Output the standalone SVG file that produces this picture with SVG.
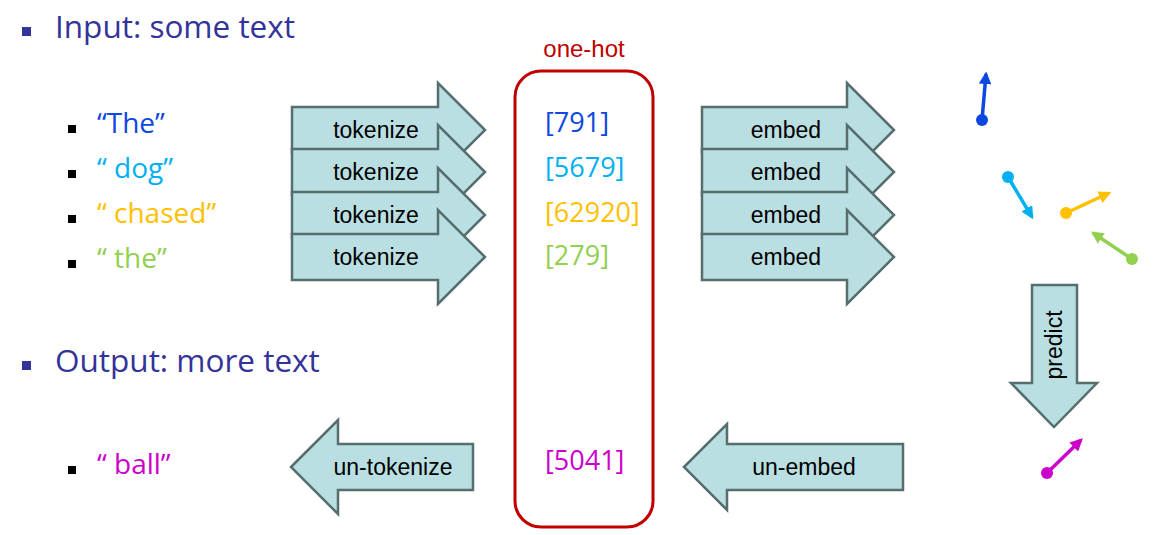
<svg xmlns="http://www.w3.org/2000/svg" width="1155" height="535" viewBox="0 0 1155 535">
<style>
.arr{fill:#b9dfe3;stroke:#566e6e;stroke-width:2.5;stroke-linejoin:miter}
.lbl{font-family:"Liberation Sans",Arial,sans-serif;font-size:23px;fill:#000;text-anchor:middle}
.hd{font-family:"Open Sans","Noto Sans",sans-serif;font-size:31.5px;fill:#333399}
.it{font-family:"Open Sans","Noto Sans",sans-serif;font-size:28px}
.num{font-family:"Open Sans","Noto Sans",sans-serif;font-size:27px}
.bh{fill:#333399}
.bi{fill:#000}
.vec{stroke-width:3.5;fill:none}
</style>
<defs>
<marker id="mb" viewBox="0 0 10 10" refX="8" refY="5" markerWidth="3.6" markerHeight="3.6" orient="auto" markerUnits="strokeWidth"><path d="M0,0 L10,5 L0,10 Z" fill="#0d47e1"/></marker>
<marker id="ms" viewBox="0 0 10 10" refX="8" refY="5" markerWidth="3.6" markerHeight="3.6" orient="auto" markerUnits="strokeWidth"><path d="M0,0 L10,5 L0,10 Z" fill="#00b0f0"/></marker>
<marker id="mo" viewBox="0 0 10 10" refX="8" refY="5" markerWidth="3.6" markerHeight="3.6" orient="auto" markerUnits="strokeWidth"><path d="M0,0 L10,5 L0,10 Z" fill="#ffc000"/></marker>
<marker id="mg" viewBox="0 0 10 10" refX="8" refY="5" markerWidth="3.6" markerHeight="3.6" orient="auto" markerUnits="strokeWidth"><path d="M0,0 L10,5 L0,10 Z" fill="#92d050"/></marker>
<marker id="mm" viewBox="0 0 10 10" refX="8" refY="5" markerWidth="3.6" markerHeight="3.6" orient="auto" markerUnits="strokeWidth"><path d="M0,0 L10,5 L0,10 Z" fill="#cc00cc"/></marker>
</defs>
<rect width="1155" height="535" fill="#fff"/>

<g id="headings">
<rect class="bh" x="22" y="27" width="9" height="9"/>
<text class="hd" x="55" y="38">Input: some text</text>
<rect class="bh" x="22" y="361" width="9" height="9"/>
<text class="hd" x="55" y="372">Output: more text</text>
</g>

<g id="words">
<rect class="bi" x="68" y="125" width="8" height="8"/>
<text class="it" x="97" y="133" fill="#0d47e1">“The”</text>
<rect class="bi" x="68" y="170" width="8" height="8"/>
<text class="it" x="97" y="178" fill="#00b0f0">“ dog”</text>
<rect class="bi" x="68" y="215" width="8" height="8"/>
<text class="it" x="97" y="223" fill="#ffc000">“ chased”</text>
<rect class="bi" x="68" y="260" width="8" height="8"/>
<text class="it" x="97" y="268" fill="#92d050">“ the”</text>
<rect class="bi" x="68" y="466" width="8" height="8"/>
<text class="it" x="97" y="474" fill="#cc00cc">“ ball”</text>
</g>

<g id="tokenize">
<path class="arr" d="M292,107 H438 V83 L485,130 L438,177 V153 H292 Z"/>
<text class="lbl" x="376" y="138">tokenize</text>
<path class="arr" d="M292,149 H438 V125 L485,172 L438,219 V195 H292 Z"/>
<text class="lbl" x="376" y="180">tokenize</text>
<path class="arr" d="M292,192 H438 V168 L485,215 L438,262 V238 H292 Z"/>
<text class="lbl" x="376" y="223">tokenize</text>
<path class="arr" d="M292,234 H438 V210 L485,257 L438,304 V280 H292 Z"/>
<text class="lbl" x="376" y="265">tokenize</text>
</g>

<g id="onehot">
<text x="584" y="57" font-family="Liberation Sans,Arial,sans-serif" font-size="24" fill="#c00000" text-anchor="middle">one-hot</text>
<rect x="515" y="71" width="138" height="456" rx="26" fill="none" stroke="#c00000" stroke-width="3"/>
<text class="num" x="545" y="132" fill="#0d47e1">[791]</text>
<text class="num" x="545" y="177" fill="#00b0f0">[5679]</text>
<text class="num" x="545" y="222" fill="#ffc000">[62920]</text>
<text class="num" x="545" y="265" fill="#92d050">[279]</text>
<text class="num" x="545" y="470" fill="#cc00cc">[5041]</text>
</g>

<g id="embed">
<path class="arr" d="M702,107 H847 V83 L894,130 L847,177 V153 H702 Z"/>
<text class="lbl" x="786" y="138">embed</text>
<path class="arr" d="M702,149 H847 V125 L894,172 L847,219 V195 H702 Z"/>
<text class="lbl" x="786" y="180">embed</text>
<path class="arr" d="M702,192 H847 V168 L894,215 L847,262 V238 H702 Z"/>
<text class="lbl" x="786" y="223">embed</text>
<path class="arr" d="M702,234 H847 V210 L894,257 L847,304 V280 H702 Z"/>
<text class="lbl" x="786" y="265">embed</text>
</g>

<g id="predict">
<path class="arr" d="M1032,285 H1077 V383 H1097 L1054,427 L1011,383 H1032 Z"/>
<text class="lbl" transform="translate(1062,345) rotate(-90)" x="0" y="0">predict</text>
</g>

<g id="unembed">
<path class="arr" d="M684,467 L727,424 V444 H903 V490 H727 V510 Z"/>
<text class="lbl" x="804" y="475">un-embed</text>
</g>

<g id="untokenize">
<path class="arr" d="M291,467 L338,420 V444 H473 V490 H338 V514 Z"/>
<text class="lbl" x="393" y="475">un-tokenize</text>
</g>

<g id="vectors">
<circle cx="982" cy="120" r="6" fill="#0d47e1"/>
<line class="vec" x1="982" y1="120" x2="986" y2="74" stroke="#0d47e1" marker-end="url(#mb)"/>
<circle cx="1008" cy="177" r="6" fill="#00b0f0"/>
<line class="vec" x1="1008" y1="177" x2="1032" y2="217" stroke="#00b0f0" marker-end="url(#ms)"/>
<circle cx="1066" cy="213" r="6" fill="#ffc000"/>
<line class="vec" x1="1066" y1="213" x2="1109" y2="193" stroke="#ffc000" marker-end="url(#mo)"/>
<circle cx="1132" cy="259" r="6" fill="#92d050"/>
<line class="vec" x1="1132" y1="259" x2="1093" y2="233" stroke="#92d050" marker-end="url(#mg)"/>
<circle cx="1047" cy="473" r="6" fill="#cc00cc"/>
<line class="vec" x1="1047" y1="473" x2="1081" y2="440" stroke="#cc00cc" marker-end="url(#mm)"/>
</g>
</svg>
